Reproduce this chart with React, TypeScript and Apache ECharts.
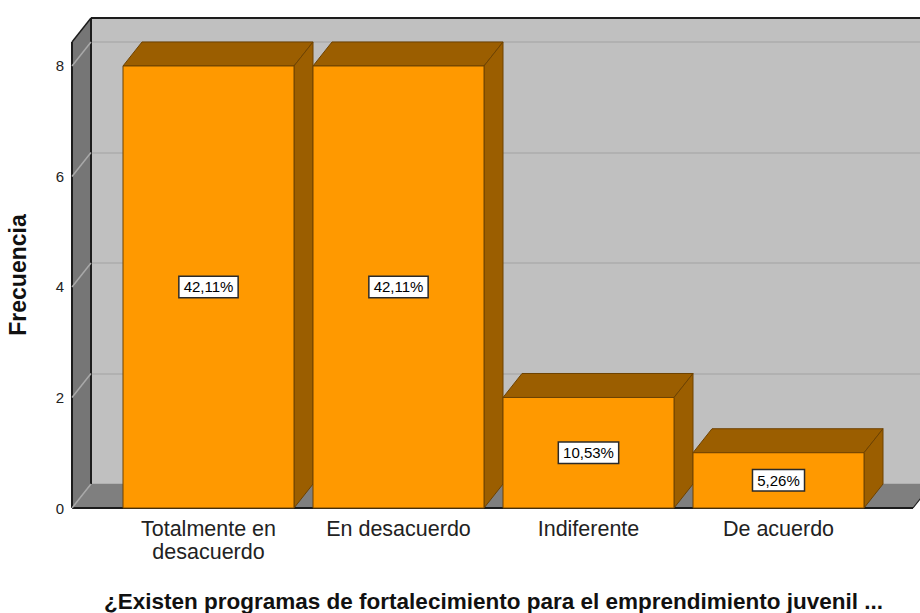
import React, { useEffect, useRef } from "react";
import * as echarts from "echarts";

const categories = ["Totalmente en\ndesacuerdo", "En desacuerdo", "Indiferente", "De acuerdo"];
const frequencies = [8, 8, 2, 1];
const percentLabels = ["42,11%", "42,11%", "10,53%", "5,26%"];
const yTicks = [0, 2, 4, 6, 8];
const yMax = 8.434;
const xTitle = "¿Existen programas de fortalecimiento para el emprendimiento juvenil ...";
const yTitle = "Frecuencia";

const FONT = '"Liberation Sans", Arial, sans-serif';
const DX = 19;
const DY = -24;
const FRONT_PAD_L = 41.5;
const FRONT_PAD_R = 39.5;

export default function App() {
  const ref = useRef<HTMLDivElement>(null);
  useEffect(() => {
    if (!ref.current) return;
    const chart = echarts.init(ref.current, null, { renderer: "svg" });
    const option: any = {
      animation: false,
      backgroundColor: "#ffffff",
      grid: [
        { left: 113.5, right: 46.5, top: 42, bottom: 105, containLabel: false, outerBoundsMode: "none" },
        {
          left: 91, right: -12, top: 18, bottom: 129, containLabel: false, outerBoundsMode: "none",
          show: true, backgroundColor: "#c0c0c0", borderWidth: 0,
        },
      ],
      xAxis: [
        {
          gridIndex: 0, type: "category", data: categories,
          axisLine: { show: false }, axisTick: { show: false },
          axisLabel: { interval: 0, fontFamily: FONT, fontSize: 21.5, color: "#222", lineHeight: 23, margin: 9 },
          name: xTitle, nameLocation: "middle", nameGap: 93,
          nameTextStyle: { fontFamily: FONT, fontSize: 22.5, fontWeight: "bold", color: "#111", verticalAlign: "middle", lineHeight: 20 },
        },
        { gridIndex: 1, type: "category", data: categories, show: false },
      ],
      yAxis: [
        {
          gridIndex: 0, type: "value", min: 0, max: yMax, interval: 2, offset: FRONT_PAD_L,
          axisLine: { show: false }, axisTick: { show: false }, splitLine: { show: false },
          axisLabel: { fontFamily: FONT, fontSize: 15, color: "#222", margin: 8, showMaxLabel: false },
          name: yTitle, nameLocation: "middle", nameGap: 43,
          nameTextStyle: { fontFamily: FONT, fontSize: 23, fontWeight: "bold", color: "#111" },
        },
        {
          gridIndex: 1, type: "value", min: 0, max: yMax, interval: 2,
          axisLine: { show: false }, axisTick: { show: false }, axisLabel: { show: false },
          splitLine: { show: true, lineStyle: { color: "#adadad", width: 1.5 } },
        },
      ],
      series: [
        {
          type: "custom", xAxisIndex: 0, yAxisIndex: 0, z: 1, silent: true,
          data: [[0, 0]],
          renderItem: (params: any, api: any) => {
            const cs = params.coordSys;
            const xl = cs.x - FRONT_PAD_L;
            const xr = cs.x + cs.width + FRONT_PAD_R;
            const yt = cs.y;
            const yb = cs.y + cs.height;
            const dark = "#1c1c1c";
            return {
              type: "group",
              children: [
                { type: "polygon", shape: { points: [[xl, yt], [xl + DX, yt + DY], [xl + DX, yb + DY], [xl, yb]] }, style: { fill: "#767676" } },
                { type: "polygon", shape: { points: [[xl, yb], [xl + DX, yb + DY], [xr + DX, yb + DY], [xr, yb]] }, style: { fill: "#7f7f7f" } },
                { type: "line", shape: { x1: xl + DX, y1: yt + DY, x2: xr + DX + 20, y2: yt + DY }, style: { stroke: dark, lineWidth: 2 } },
                { type: "line", shape: { x1: xl + DX, y1: yt + DY, x2: xl + DX, y2: yb + DY }, style: { stroke: dark, lineWidth: 2 } },
                { type: "line", shape: { x1: xl, y1: yt, x2: xl + DX, y2: yt + DY }, style: { stroke: dark, lineWidth: 1.5 } },
                { type: "line", shape: { x1: xl, y1: yt, x2: xl, y2: yb }, style: { stroke: dark, lineWidth: 2 } },
                { type: "line", shape: { x1: xl, y1: yb, x2: xr, y2: yb }, style: { stroke: dark, lineWidth: 2 } },
                { type: "line", shape: { x1: xr, y1: yb, x2: xr + DX, y2: yb + DY }, style: { stroke: dark, lineWidth: 1.2 } },
              ],
            };
          },
        },
        {
          type: "custom", xAxisIndex: 0, yAxisIndex: 0, z: 2, silent: true,
          data: yTicks.map((v) => [0, v]),
          renderItem: (params: any, api: any) => {
            const cs = params.coordSys;
            const xl = cs.x - FRONT_PAD_L;
            const y = api.coord([0, api.value(1)])[1];
            return {
              type: "line",
              shape: { x1: xl, y1: y, x2: xl + DX, y2: y + DY },
              style: { stroke: "#a9a9a9", lineWidth: 1.5 },
            };
          },
        },
        {
          type: "custom", xAxisIndex: 0, yAxisIndex: 0, z: 3, silent: true,
          data: frequencies.map((v, i) => [i, v]),
          renderItem: (params: any, api: any) => {
            const idx = api.value(0);
            const v = api.value(1);
            const top = api.coord([idx, v]);
            const base = api.coord([idx, 0]);
            const bw = api.size([1, 0])[0] * 0.9;
            const x0 = top[0] - bw / 2;
            const x1 = top[0] + bw / 2;
            const yT = top[1];
            const yB = base[1];
            const edge = { stroke: "#6e4200", lineWidth: 1 };
            return {
              type: "group",
              children: [
                { type: "polygon", shape: { points: [[x0, yT], [x0 + DX, yT + DY], [x1 + DX, yT + DY], [x1, yT]] }, style: { fill: "#9b5e00", ...edge } },
                { type: "polygon", shape: { points: [[x1, yT], [x1 + DX, yT + DY], [x1 + DX, yB + DY], [x1, yB]] }, style: { fill: "#9b5e00", ...edge } },
                { type: "rect", shape: { x: x0, y: yT, width: bw, height: yB - yT }, style: { fill: "#ff9900", ...edge } },
                {
                  type: "text", x: top[0], y: (yT + yB) / 2,
                  style: {
                    text: percentLabels[params.dataIndex], font: `15px ${FONT}`, fill: "#000",
                    align: "center", verticalAlign: "middle",
                    backgroundColor: "#ffffff", borderColor: "#2a2a2a", borderWidth: 1.5, padding: [3, 4, 2, 4],
                  },
                },
              ],
            };
          },
        },
      ],
    };
    chart.setOption(option);
    return () => chart.dispose();
  }, []);
  return <div ref={ref} style={{ position: "fixed", left: 0, top: 0, width: 920, height: 613 }} />;
}
